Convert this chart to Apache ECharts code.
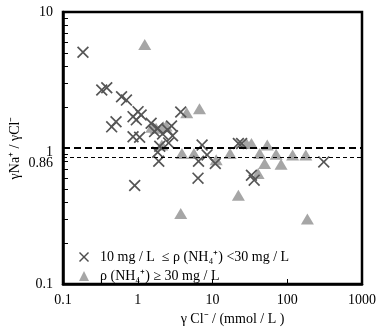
<!DOCTYPE html>
<html>
<head>
<meta charset="utf-8">
<script src="https://cdn.jsdelivr.net/npm/echarts@6/dist/echarts.min.js"></script>
<style>
  html, body { margin: 0; padding: 0; background: #fff; }
  #chart { width: 383px; height: 331px; }
</style>
</head>
<body>
<div id="chart"></div>
<script>
// γCl⁻ (mmol/L) and γNa⁺/γCl⁻ for samples with 10 ≤ ρ(NH4+) < 30 mg/L
const lowClX = [0.185, 0.33, 0.385, 0.607, 0.706, 0.448, 0.512, 0.865, 1.01, 0.957, 1.11, 0.865, 1.06, 0.91, 3.76,
  1.51, 1.85, 1.68, 2.15, 2.51, 2.83, 2.92, 2.59, 1.97, 1.85, 1.91,
  7.26, 6.5, 6.4, 8.45, 10.9, 22.2, 24.5, 33.2, 36.1, 308];
const lowRatio = [5.06, 2.67, 2.77, 2.38, 2.25, 1.43, 1.56, 1.70, 1.85, 1.61, 1.75, 1.21, 1.20, 0.53, 1.84,
  1.52, 1.40, 1.32, 1.27, 1.36, 1.45, 1.23, 1.09, 1.03, 0.93, 0.80,
  1.05, 0.80, 0.60, 0.89, 0.77, 1.08, 1.08, 0.63, 0.58, 0.79];

// samples with ρ(NH4+) ≥ 30 mg/L
const highClX = [1.24, 4.52, 6.70, 1.54, 1.76, 2.2, 2.4, 2.1, 3.9, 5.65, 3.76, 11.2, 17.2, 22.2, 28.5, 33.2,
  42.8, 54, 71, 118, 177, 49.8, 82.6, 40.7, 186];
const highRatio = [5.78, 1.82, 1.94, 1.42, 1.40, 1.43, 1.45, 1.05, 0.91, 0.91, 0.33, 0.82, 0.91, 0.45, 1.08, 1.08,
  0.91, 1.05, 0.90, 0.89, 0.89, 0.77, 0.76, 0.65, 0.30];

// reference ratios drawn as dashed lines
const refLines = [1, 0.86];
const refLabels = ['1', '0.86'];

const xTicks = [0.1, 1, 10, 100, 1000];
const xTickLabels = ['0.1', '1', '10', '100', '1000'];
const yTicks = [0.1, 10];
const yTickLabels = ['0.1', '10'];
const yMinorTicks = [0.2, 0.3, 0.4, 0.5, 0.6, 0.7, 0.8, 0.9, 1, 2, 3, 4, 5, 6, 7, 8, 9];

const seriesNames = ['10 mg / L  ≤ ρ (NH₄⁺) <30 mg / L', 'ρ (NH₄⁺) ≥ 30 mg / L'];

const FONT = '"Liberation Serif", "Times New Roman", serif';
const crossPath = 'path://M0,1L1,0L5,4L9,0L10,1L6,5L10,9L9,10L5,6L1,10L0,9L4,5Z';

const zip = (xs, ys) => xs.map((x, i) => [x, ys[i]]);
const labelOf = (ticks, labels) => v => {
  const i = ticks.findIndex(t => Math.abs(t - v) / t < 1e-6);
  return i >= 0 ? labels[i] : '';
};

const chart = echarts.init(document.getElementById('chart'), null, { renderer: 'canvas' });
chart.setOption({
  animation: false,
  backgroundColor: '#fff',
  textStyle: { fontFamily: FONT },
  grid: { left: 59, right: 21, top: 12, bottom: 47, show: true, borderColor: '#000', borderWidth: 2.5 },
  xAxis: {
    type: 'log', logBase: 10, min: 0.1, max: 1000,
    name: 'γ Cl⁻ / (mmol / L )', nameLocation: 'middle', nameGap: 24,
    nameTextStyle: { fontFamily: FONT, fontSize: 14, color: '#000', padding: [0, 0, 0, 40] },
    axisLine: { lineStyle: { color: '#000', width: 2.5 } },
    axisTick: { inside: true, length: 5, lineStyle: { color: '#000', width: 1 }, customValues: xTicks },
    axisLabel: { customValues: xTicks, formatter: labelOf(xTicks, xTickLabels), fontFamily: FONT, fontSize: 14, color: '#000', margin: 9 },
    splitLine: { show: false }, minorTick: { show: false }
  },
  yAxis: {
    type: 'log', logBase: 10, min: 0.1, max: 10,
    name: 'γNa⁺ / γCl⁻', nameLocation: 'middle', nameGap: 41,
    nameTextStyle: { fontFamily: FONT, fontSize: 14, color: '#000' },
    axisLine: { lineStyle: { color: '#000', width: 2.5 } },
    axisTick: { inside: true, length: 5, lineStyle: { color: '#000', width: 1 }, customValues: yMinorTicks },
    axisLabel: { customValues: yTicks, formatter: labelOf(yTicks, yTickLabels), fontFamily: FONT, fontSize: 14, color: '#000', margin: 10 },
    splitLine: { show: false }
  },
  legend: {
    orient: 'vertical', left: 74, top: 245, itemGap: 5,
    itemWidth: 10, itemHeight: 10,
    textStyle: { fontFamily: FONT, fontSize: 14, color: '#000', padding: [0, 0, 0, 6] },
    data: [
      { name: seriesNames[0], icon: crossPath, itemStyle: { color: '#4d4d4d' } },
      { name: seriesNames[1], icon: 'triangle', itemStyle: { color: '#a6a6a6' } }
    ]
  },
  series: [
    {
      name: seriesNames[0], type: 'scatter', symbol: crossPath, symbolSize: 12,
      itemStyle: { color: '#555', opacity: 1 },
      data: zip(lowClX, lowRatio), z: 3,
      markLine: {
        silent: true, symbol: 'none', animation: false,
        data: refLines.map((v, i) => ({
          yAxis: v,
          lineStyle: i === 0
            ? { color: '#000', width: 2, type: [7, 4] }
            : { color: '#000', width: 1.2, type: [4, 3] },
          label: {
            show: true, position: 'start', distance: 10, formatter: refLabels[i],
            fontFamily: FONT, fontSize: 14, color: '#000',
            offset: [0, i === 0 ? 4 : 6]
          }
        }))
      }
    },
    {
      name: seriesNames[1], type: 'scatter', symbol: 'triangle', symbolSize: [13, 11],
      itemStyle: { color: '#a6a6a6', opacity: 1 },
      data: zip(highClX, highRatio), z: 2
    }
  ]
});
</script>
</body>
</html>
